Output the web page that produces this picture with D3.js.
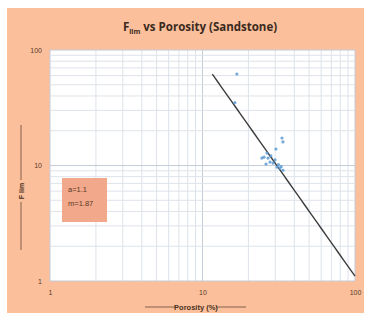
<!DOCTYPE html>
<html>
<head>
<meta charset="utf-8">
<script src="https://cdn.jsdelivr.net/npm/d3@7"></script>
<style>
  html, body { margin: 0; padding: 0; background: #ffffff; }
  svg { display: block; }
</style>
</head>
<body>
<svg id="chart" width="371" height="323"></svg>
<script>
// Sandstone samples: porosity (%) and formation resistivity factor F_lim
const porosity = [16.8, 16.3, 33.2, 33.7, 30.3, 25.3, 24.5, 26.5, 26.9, 27.7, 26.1, 29.0, 30.8, 32.2, 33.7, 29.9, 28.1, 31.5, 32.8];
const fLim     = [62,   35,   17.3, 16.0, 13.9, 11.8, 11.6, 12.8, 11.6, 10.7, 10.3, 10.5, 9.7,  9.5,  9.1,  11.2, 12.1, 10.2, 9.8];

// Archie fit parameters
const archieA = 1.1;
const archieM = 1.87;
const fitRange = [11.6, 100];

const xTicks = [1, 10, 100];
const yTicks = [1, 10, 100];

const svg = d3.select("#chart");

// chart panel
svg.append("rect").attr("x", 7).attr("y", 8).attr("width", 357).attr("height", 305)
  .attr("fill", "#fbbf9b");

const plot = { left: 50, top: 50, right: 355, bottom: 281 };

const x = d3.scaleLog().domain([1, 100]).range([plot.left, plot.right]);
const y = d3.scaleLog().domain([1, 100]).range([plot.bottom, plot.top]);

svg.append("rect")
  .attr("x", plot.left).attr("y", plot.top)
  .attr("width", plot.right - plot.left).attr("height", plot.bottom - plot.top)
  .attr("fill", "#ffffff");

// log grid: every 1..9 × decade
const gridVals = [];
[1, 10].forEach(d => { for (let k = 1; k <= 9; k++) gridVals.push(d * k); });
gridVals.push(100);

const grid = svg.append("g");
grid.selectAll("line.vx").data(gridVals).join("line")
  .attr("x1", d => x(d)).attr("x2", d => x(d))
  .attr("y1", plot.top).attr("y2", plot.bottom)
  .attr("stroke", d => (xTicks.includes(d) ? "#c4ccd8" : "#dde3ea"))
  .attr("stroke-width", 1);
grid.selectAll("line.hy").data(gridVals).join("line")
  .attr("y1", d => y(d)).attr("y2", d => y(d))
  .attr("x1", plot.left).attr("x2", plot.right)
  .attr("stroke", d => (yTicks.includes(d) ? "#c4ccd8" : "#dde3ea"))
  .attr("stroke-width", 1);

// axes (labels only)
const xAxis = d3.axisBottom(x).tickValues(xTicks).tickFormat(d3.format("d")).tickSize(0).tickPadding(9);
const yAxis = d3.axisLeft(y).tickValues(yTicks).tickFormat(d3.format("d")).tickSize(0).tickPadding(8);

const gx = svg.append("g").attr("transform", `translate(0,${plot.bottom})`).call(xAxis);
const gy = svg.append("g").attr("transform", `translate(${plot.left},0)`).call(yAxis);
[gx, gy].forEach(g => {
  g.select(".domain").remove();
  g.selectAll("text").attr("font-family", "'Liberation Sans Narrow', 'Liberation Sans', sans-serif")
    .attr("font-size", 7).attr("fill", "#5a3a28");
});

// Archie fit line F = a / phi^m (phi as fraction)
const fit = d3.range(0, 51).map(i => {
  const p = fitRange[0] * Math.pow(fitRange[1] / fitRange[0], i / 50);
  return [p, archieA * Math.pow(p / 100, -archieM)];
});
svg.append("path")
  .datum(fit)
  .attr("d", d3.line().x(d => x(d[0])).y(d => y(d[1])))
  .attr("fill", "none").attr("stroke", "#3c3c3c").attr("stroke-width", 1.4);

// samples
svg.append("g").selectAll("circle").data(porosity.map((p, i) => [p, fLim[i]])).join("circle")
  .attr("cx", d => x(d[0])).attr("cy", d => y(d[1])).attr("r", 1.6)
  .attr("fill", "#5b9bd5").attr("opacity", 0.85);

// title
const title = svg.append("text")
  .attr("x", 200).attr("y", 31).attr("text-anchor", "middle")
  .attr("font-family", "'Open Sans', 'Liberation Sans', sans-serif")
  .attr("font-weight", "bold").attr("font-size", 11.5).attr("fill", "#3a2a20");
title.append("tspan").text("F");
title.append("tspan").attr("font-size", 7).attr("dy", 3).text("lim");
title.append("tspan").attr("dy", -3).text(" vs Porosity (Sandstone)");

// axis titles with rule lines
const labelFont = "'Liberation Sans Narrow', 'Liberation Sans', sans-serif";
svg.append("line").attr("x1", 145).attr("x2", 246).attr("y1", 307).attr("y2", 307)
  .attr("stroke", "#6a4a38").attr("stroke-width", 0.8);
svg.append("rect").attr("x", 176).attr("y", 301).attr("width", 40).attr("height", 10).attr("fill", "#fbbf9b");
svg.append("text").attr("x", 196).attr("y", 310).attr("text-anchor", "middle")
  .attr("font-family", labelFont).attr("font-weight", "bold").attr("font-size", 7.5).attr("fill", "#4a3020")
  .text("Porosity (%)");

svg.append("line").attr("x1", 21).attr("x2", 21).attr("y1", 125).attr("y2", 250)
  .attr("stroke", "#6a4a38").attr("stroke-width", 0.8);
svg.append("rect").attr("x", 16).attr("y", 180).attr("width", 10).attr("height", 22).attr("fill", "#fbbf9b");
svg.append("text").attr("transform", "translate(24,191) rotate(-90)").attr("text-anchor", "middle")
  .attr("font-family", labelFont).attr("font-weight", "bold").attr("font-size", 7).attr("fill", "#4a3020")
  .text("F lim");

// fit parameter box
svg.append("rect").attr("x", 62).attr("y", 178).attr("width", 45).attr("height", 44)
  .attr("fill", "#f2a88a");
svg.append("text").attr("x", 68).attr("y", 192)
  .attr("font-family", labelFont).attr("font-size", 7.5).attr("fill", "#5a3a28").text(`a=${archieA}`);
svg.append("text").attr("x", 68).attr("y", 206)
  .attr("font-family", labelFont).attr("font-size", 7.5).attr("fill", "#5a3a28").text(`m=${archieM}`);
</script>
</body>
</html>
